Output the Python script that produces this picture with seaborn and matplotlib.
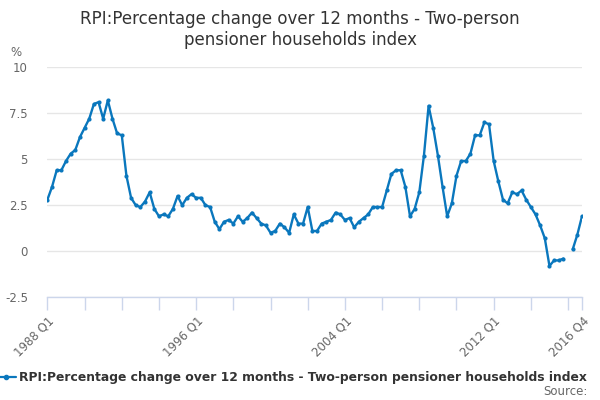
import numpy as np
import pandas as pd
import matplotlib
matplotlib.use("Agg")
import matplotlib.pyplot as plt
import matplotlib.lines as mlines
import seaborn as sns

# Quarterly data, 1988 Q1 - 2016 Q4 (one missing point in 2016 Q1)
start_year = 1988
end_year = 2016
values = [
    2.8, 3.5, 4.4, 4.4, 4.9, 5.3, 5.5, 6.2, 6.7, 7.2,
    8.0, 8.1, 7.2, 8.2, 7.2, 6.4, 6.3, 4.1, 2.9, 2.5,
    2.4, 2.7, 3.2, 2.3, 1.9, 2.0, 1.9, 2.3, 3.0, 2.5,
    2.9, 3.1, 2.9, 2.9, 2.5, 2.4, 1.6, 1.2, 1.6, 1.7,
    1.5, 1.9, 1.6, 1.8, 2.1, 1.8, 1.5, 1.4, 1.0, 1.1,
    1.5, 1.3, 1.0, 2.0, 1.5, 1.5, 2.4, 1.1, 1.1, 1.5,
    1.6, 1.7, 2.1, 2.0, 1.7, 1.8, 1.3, 1.6, 1.8, 2.0,
    2.4, 2.4, 2.4, 3.3, 4.2, 4.4, 4.4, 3.5, 1.9, 2.3,
    3.2, 5.2, 7.9, 6.7, 5.2, 3.5, 1.9, 2.6, 4.1, 4.9,
    4.9, 5.3, 6.3, 6.3, 7.0, 6.9, 4.9, 3.8, 2.8, 2.6,
    3.2, 3.1, 3.3, 2.8, 2.4, 2.0, 1.4, 0.7, -0.8, -0.5,
    -0.5, -0.4, np.nan, 0.1, 0.9, 1.9,
]
quarters = [f"{y} Q{q}" for y in range(start_year, end_year + 1) for q in range(1, 5)]
label_quarters = ["1988 Q1", "1996 Q1", "2004 Q1", "2012 Q1", "2016 Q4"]
y_ticks = [-2.5, 0, 2.5, 5, 7.5, 10]
y_labels = ["-2.5", "0", "2.5", "5", "7.5", "10"]

series_name = "RPI:Percentage change over 12 months - Two-person pensioner households index"
line_color = "#0a77bd"

df = pd.DataFrame({"quarter": quarters, "value": values})
df["pos"] = np.arange(len(df))
# split into segments so the gap is not bridged
df["segment"] = df["value"].isna().cumsum()
df = df.dropna()

sns.set_theme(style="white")
plt.rcParams["font.family"] = ["DejaVu Sans"]

fig = plt.figure(figsize=(6, 4), dpi=100)
ax = fig.add_axes([0.079, 0.257, 0.891, 0.575])

sns.lineplot(data=df, x="pos", y="value", units="segment", estimator=None,
             color=line_color, linewidth=1.7, marker="o", markersize=3,
             markeredgewidth=0, ax=ax)

ax.set_xlim(0, len(quarters) - 1)
ax.set_ylim(-2.5, 10)
ax.set_yticks(y_ticks)
ax.set_yticklabels(y_labels)
ax.yaxis.grid(True, color="#e6e6e6", linewidth=1)
ax.set_axisbelow(True)

label_pos = [quarters.index(q) for q in label_quarters]
minor_pos = [p for p in range(0, len(quarters), 8) if p not in label_pos]
ax.set_xticks(label_pos)
ax.set_xticklabels(label_quarters, rotation=45, ha="right", rotation_mode="anchor")
ax.set_xticks(minor_pos, minor=True)
ax.tick_params(axis="x", which="both", direction="out", length=9, width=1,
               color="#ccd6eb", bottom=True)
ax.tick_params(axis="x", which="major", labelsize=8.5, labelcolor="#666666", pad=3)
ax.tick_params(axis="y", length=0, labelsize=8.5, labelcolor="#666666", pad=14)

for side in ["top", "right", "left"]:
    ax.spines[side].set_visible(False)
ax.spines["bottom"].set_color("#ccd6eb")
ax.spines["bottom"].set_linewidth(1)
ax.set_xlabel("")
ax.set_ylabel("")

fig.text(0.5, 0.927, "RPI:Percentage change over 12 months - Two-person\npensioner households index",
         ha="center", va="center", fontsize=12, color="#333333", linespacing=1.2)
fig.text(0.018, 0.87, "%", fontsize=8.5, color="#666666", ha="left", va="center")

handle = mlines.Line2D([], [], color=line_color, linewidth=1.6, marker="o", markersize=3)
fig.legend(handles=[handle], labels=[series_name], loc="center",
           bbox_to_anchor=(0.486, 0.055), frameon=False, handlelength=1.6,
           handletextpad=0.3, prop={"size": 8.9, "weight": "bold"}, labelcolor="#333333")
fig.text(0.98, 0.022, "Source:", ha="right", va="center", fontsize=8.5, color="#666666")

fig.savefig("out.png", dpi=100)
